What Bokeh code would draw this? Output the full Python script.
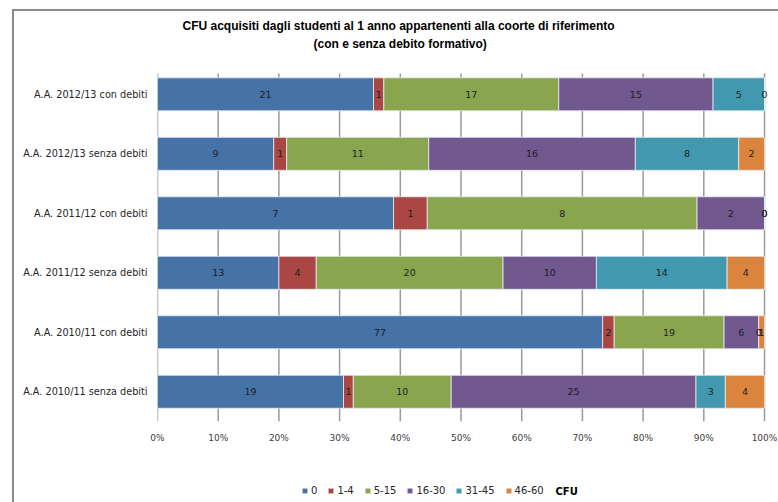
from bokeh.plotting import figure
from bokeh.models import (Range1d, FixedTicker, Legend, LegendItem, ColumnDataSource, Title, Label)
from bokeh.layouts import column
from bokeh.embed import file_html
from bokeh.resources import INLINE
from bokeh.core.properties import value

categories = ["A.A. 2012/13 con debiti", "A.A. 2012/13 senza debiti",
              "A.A. 2011/12 con debiti", "A.A. 2011/12 senza debiti",
              "A.A. 2010/11 con debiti", "A.A. 2010/11 senza debiti"]
series_names = ["0", "1-4", "5-15", "16-30", "31-45", "46-60"]
cfu_0 = [21, 9, 7, 13, 77, 19]
cfu_1_4 = [1, 1, 1, 4, 2, 1]
cfu_5_15 = [17, 11, 8, 20, 19, 10]
cfu_16_30 = [15, 16, 2, 10, 6, 25]
cfu_31_45 = [5, 8, 0, 14, 0, 3]
cfu_46_60 = [0, 2, 0, 4, 1, 4]
x_ticks = [0, 10, 20, 30, 40, 50, 60, 70, 80, 90, 100]
x_tick_labels = ["0%", "10%", "20%", "30%", "40%", "50%", "60%", "70%", "80%", "90%", "100%"]
title_line1 = "CFU acquisiti dagli studenti  al 1  anno  appartenenti alla coorte di riferimento"
title_line2 = "(con e senza debito formativo)"
legend_title = "CFU"

colors = ["#4572A7", "#AA4643", "#89A54E", "#71588F", "#4198AF", "#DB843D"]
series = [cfu_0, cfu_1_4, cfu_5_15, cfu_16_30, cfu_31_45, cfu_46_60]
bar_line = "#e8eef5"

n = len(categories)
ypos = [n - 1 - i for i in range(n)]
totals = [sum(s[i] for s in series) for i in range(n)]

# ---------------- main chart ----------------
# plot area runs a little past 100% so end-of-bar labels are not clipped
p = figure(width=764, height=459, output_backend="svg", toolbar_location=None,
           x_range=Range1d(0, 102.306), y_range=Range1d(-0.5, 5.72),
           min_border_left=143, min_border_right=0, min_border_top=40, min_border_bottom=49)
p.outline_line_color = None
p.background_fill_color = "white"
p.border_fill_color = "white"

# titles (the figure title is outermost, the added one sits next to the plot area)
p.title.text = title_line1
p.title.align = "left"
p.title.offset = 25
p.title.standoff = 2
p.title.text_font = "Liberation Sans"
p.title.text_font_size = "12px"
p.title.text_font_style = "bold"
p.title.text_color = "black"
p.add_layout(Title(text=title_line2, align="left", offset=156, standoff=2,
                   text_font="Liberation Sans", text_font_size="12px",
                   text_font_style="bold", text_color="black"), "above")

# vertical grid lines drawn at the tick positions
p.xgrid.grid_line_color = None
p.ygrid.grid_line_color = None
p.segment(x0=x_ticks, y0=[-0.5] * len(x_ticks), x1=x_ticks, y1=[5.35] * len(x_ticks),
          line_color="#9a9a9a", line_width=1.5)

# axes
p.xaxis.ticker = FixedTicker(ticks=x_ticks)
p.xaxis.major_label_overrides = {t: l for t, l in zip(x_ticks, x_tick_labels)}
p.xaxis.axis_line_color = None
p.xaxis.major_tick_line_color = None
p.xaxis.minor_tick_line_color = None
p.xaxis.major_tick_out = 0
p.xaxis.major_tick_in = 0
p.xaxis.minor_tick_out = 0
p.xaxis.major_label_standoff = 11
p.xaxis.major_label_text_font = "DejaVu Sans"
p.xaxis.major_label_text_font_size = "9px"
p.xaxis.major_label_text_color = "#404040"

p.yaxis.ticker = FixedTicker(ticks=ypos)
p.yaxis.major_label_overrides = {y: c for y, c in zip(ypos, categories)}
p.yaxis.axis_line_color = None
p.yaxis.major_tick_line_color = None
p.yaxis.minor_tick_line_color = None
p.yaxis.major_tick_out = 0
p.yaxis.major_tick_in = 0
p.yaxis.minor_tick_out = 0
p.yaxis.major_label_standoff = 10
p.yaxis.major_label_text_font = "DejaVu Sans"
p.yaxis.major_label_text_font_size = "9.7px"
p.yaxis.major_label_text_color = "#262626"

left = [0.0] * n
lab_x, lab_y, lab_t = [], [], []
for name, vals, col in zip(series_names, series, colors):
    pct = [v / t * 100 for v, t in zip(vals, totals)]
    right = [l + q for l, q in zip(left, pct)]
    src = ColumnDataSource(dict(y=ypos, left=left, right=right))
    p.hbar(y="y", left="left", right="right", height=0.555, source=src,
           fill_color=col, line_color=bar_line, line_width=0.8)
    for i in range(n):
        lab_x.append((left[i] + right[i]) / 2)
        lab_y.append(ypos[i])
        lab_t.append(str(vals[i]))
    left = right

p.text(x=lab_x, y=lab_y, text=lab_t, text_align="center", text_baseline="middle",
       text_font=value("DejaVu Sans"), text_font_size="9.5px", text_color="#1e1e1e")

# ---------------- legend strip ----------------
pl = figure(width=764, height=32, output_backend="svg", toolbar_location=None,
            x_range=Range1d(0, 1), y_range=Range1d(0, 1),
            x_axis_type=None, y_axis_type=None,
            min_border_left=143, min_border_right=0, min_border_top=0, min_border_bottom=0)
pl.outline_line_color = None
pl.grid.grid_line_color = None
pl.background_fill_color = "white"
pl.border_fill_color = "white"

legend_items = []
for name, col in zip(series_names, colors):
    # swatch-only renderer: its single bar lies outside the visible range
    r = pl.hbar(y=[-10], left=[0], right=[1], height=0.5, fill_color=col,
                line_color=bar_line, line_width=0.8)
    legend_items.append(LegendItem(label=name, renderers=[r]))

legend = Legend(items=legend_items, orientation="horizontal", location=(144, 6),
                glyph_width=7, glyph_height=7, label_standoff=3, spacing=10,
                label_width=0, label_height=10,
                label_text_font="DejaVu Sans", label_text_font_size="10px",
                label_text_color="#262626", padding=0, margin=0,
                border_line_color=None, background_fill_alpha=0)
pl.add_layout(legend, "center")
pl.add_layout(Label(x=398, y=11, x_units="screen", y_units="screen", text=legend_title,
                    text_align="left", text_baseline="middle", text_font="DejaVu Sans",
                    text_font_style="bold", text_font_size="10px", text_color="black"))

lay = column(p, pl, spacing=0)
lay.styles = {"margin-left": "12px", "margin-top": "9px",
              "border-left": "2px solid #8c8c8c", "border-top": "2px solid #8c8c8c"}

open("out.html", "w").write(file_html(lay, INLINE))
